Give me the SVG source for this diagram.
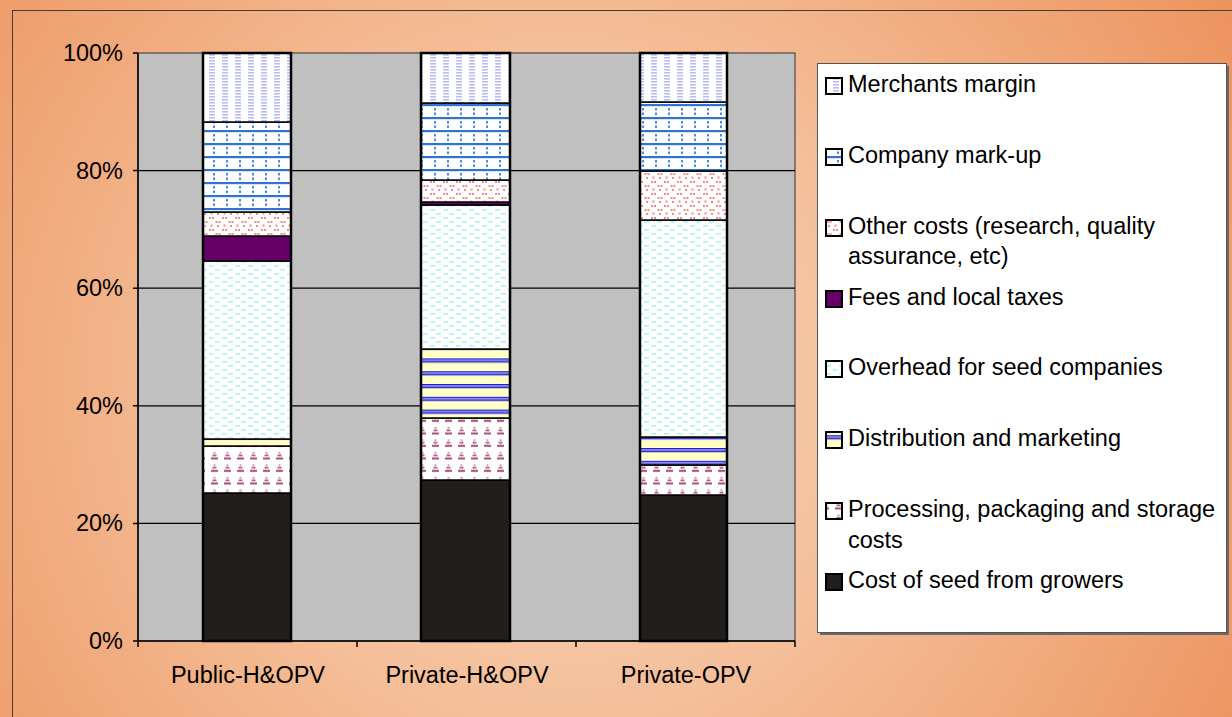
<svg xmlns="http://www.w3.org/2000/svg" width="1232" height="717" viewBox="0 0 1232 717">
  <defs>
    <radialGradient id="bgGrad" gradientUnits="userSpaceOnUse" cx="560" cy="390" r="760">
      <stop offset="0" stop-color="#F9D6BA"/>
      <stop offset="0.45" stop-color="#F4BE98"/>
      <stop offset="1" stop-color="#ED9560"/>
    </radialGradient>
    <!-- Merchants margin: columns of lavender dashes -->
    <pattern id="pMer" patternUnits="userSpaceOnUse" width="13" height="3">
      <rect width="13" height="3" fill="#FFFFFF"/>
      <rect x="1" y="0" width="6" height="1.6" fill="#BCBCF2"/>
    </pattern>
    <!-- Company mark-up: blue rules with dotted verticals -->
    <pattern id="pCom" patternUnits="userSpaceOnUse" width="13" height="13">
      <rect width="13" height="13" fill="#FFFFFF"/>
      <rect x="0" y="0" width="13" height="2.2" fill="#2F74D2"/>
      <rect x="5" y="4" width="2" height="2.5" fill="#4A8CE0"/>
      <rect x="5" y="8.5" width="2" height="2.5" fill="#4A8CE0"/>
    </pattern>
    <!-- Other costs: pink dot zigzag -->
    <pattern id="pOth" patternUnits="userSpaceOnUse" width="13" height="12">
      <rect width="13" height="12" fill="#FFFFFF"/>
      <rect x="1" y="1" width="2" height="2" fill="#F08C8C"/>
      <rect x="4" y="1" width="2" height="2" fill="#F08C8C"/>
      <rect x="7.5" y="5" width="2" height="2" fill="#F08C8C"/>
      <rect x="10.5" y="5" width="2" height="2" fill="#F08C8C"/>
      <rect x="2.5" y="8.5" width="2" height="2" fill="#F08C8C"/>
      <rect x="9" y="9" width="2" height="2" fill="#F08C8C"/>
    </pattern>
    <!-- Overhead: pale cyan dashes -->
    <pattern id="pOve" patternUnits="userSpaceOnUse" width="13" height="8">
      <rect width="13" height="8" fill="#FFFFFF"/>
      <rect x="1" y="1" width="5" height="1.6" fill="#AEF2F6"/>
      <rect x="7" y="5" width="5" height="1.6" fill="#AEF2F6"/>
    </pattern>
    <!-- Distribution: cream with blue stripes -->
    <pattern id="pDis" patternUnits="userSpaceOnUse" width="13" height="12.8">
      <rect width="13" height="12.8" fill="#FFFFC6"/>
      <rect x="0" y="0" width="13" height="1.2" fill="#2020D8"/>
      <rect x="0" y="1.2" width="13" height="1.8" fill="#7878EE"/>
      <rect x="0" y="3" width="13" height="1.2" fill="#2020D8"/>
    </pattern>
    <!-- Processing: magenta pyramids -->
    <pattern id="pPro" patternUnits="userSpaceOnUse" width="13" height="12.5">
      <rect width="13" height="12.5" fill="#FFFFFF"/>
      <rect x="5.5" y="2" width="2" height="1.4" fill="#C07CA0"/>
      <rect x="4.5" y="4.5" width="4" height="1.6" fill="#A84878"/>
      <rect x="3" y="7.5" width="7" height="1.8" fill="#9C3A6C"/>
    </pattern>
    <style>
      text { font-family: "Liberation Sans", Arial, sans-serif; font-size: 23.5px; fill: #000000; }
      .seg { stroke: #000000; stroke-width: 1.5; }
      .bar { fill: none; stroke: #000000; stroke-width: 2.5; }
      .grid { stroke: #000000; stroke-width: 1.2; }
      .axis { stroke: #000000; stroke-width: 1.5; fill: none; }
      .sw { stroke: #000000; stroke-width: 2; }
      .seed { fill: #221E1B; }
      .fees { fill: #660066; }
    </style>
  </defs>

  <!-- background and frame -->
  <rect x="0" y="0" width="1232" height="717" fill="url(#bgGrad)"/>
  <rect x="12.5" y="10.5" width="1240" height="720" fill="none" stroke="#4A3A32" stroke-width="1"/>

  <!-- plot area with gridlines and axes -->
  <g id="plot">
    <rect x="138" y="53" width="657" height="588" fill="#C0C0C0" stroke="#333333" stroke-width="1"/>
    <line class="grid" x1="138" y1="523.4" x2="795" y2="523.4"/>
    <line class="grid" x1="138" y1="405.8" x2="795" y2="405.8"/>
    <line class="grid" x1="138" y1="288.2" x2="795" y2="288.2"/>
    <line class="grid" x1="138" y1="170.6" x2="795" y2="170.6"/>
    <path class="axis" d="M138,53 V647 M138,641 H795 M133,53 H138 M133,170.6 H138 M133,288.2 H138 M133,405.8 H138 M133,523.4 H138 M133,641 H138 M357,641 V647 M576,641 V647 M795,641 V647"/>
  </g>

  <g id="y-labels" text-anchor="end">
    <text x="123" y="61">100%</text>
    <text x="123" y="179">80%</text>
    <text x="123" y="296">60%</text>
    <text x="123" y="414">40%</text>
    <text x="123" y="531">20%</text>
    <text x="123" y="649">0%</text>
  </g>

  <!-- stacked bars -->
  <g id="bar-public-hopv">
    <rect class="seg seed" x="203" y="493" width="88" height="148"/>
    <rect class="seg" fill="url(#pPro)" x="203" y="446" width="88" height="47"/>
    <rect class="seg" fill="url(#pDis)" x="203" y="439" width="88" height="7"/>
    <rect class="seg" fill="url(#pOve)" x="203" y="261" width="88" height="178"/>
    <rect class="seg fees" x="203" y="236" width="88" height="25"/>
    <rect class="seg" fill="url(#pOth)" x="203" y="212" width="88" height="24"/>
    <rect class="seg" fill="url(#pCom)" x="203" y="122" width="88" height="90"/>
    <rect class="seg" fill="url(#pMer)" x="203" y="53" width="88" height="69"/>
    <rect class="bar" x="203" y="53" width="88" height="588"/>
  </g>
  <g id="bar-private-hopv">
    <rect class="seg seed" x="421" y="480" width="89" height="161"/>
    <rect class="seg" fill="url(#pPro)" x="421" y="418" width="89" height="62"/>
    <rect class="seg" fill="url(#pDis)" x="421" y="349" width="89" height="69"/>
    <rect class="seg" fill="url(#pOve)" x="421" y="205" width="89" height="144"/>
    <rect class="seg fees" x="421" y="202" width="89" height="3"/>
    <rect class="seg" fill="url(#pOth)" x="421" y="180" width="89" height="22"/>
    <rect class="seg" fill="url(#pCom)" x="421" y="103" width="89" height="77"/>
    <rect class="seg" fill="url(#pMer)" x="421" y="53" width="89" height="50"/>
    <rect class="bar" x="421" y="53" width="89" height="588"/>
  </g>
  <g id="bar-private-opv">
    <rect class="seg seed" x="640" y="495" width="87" height="146"/>
    <rect class="seg" fill="url(#pPro)" x="640" y="465" width="87" height="30"/>
    <rect class="seg" fill="url(#pDis)" x="640" y="437" width="87" height="28"/>
    <rect class="seg" fill="url(#pOve)" x="640" y="220" width="87" height="217"/>
    <rect class="seg" fill="url(#pOth)" x="640" y="171" width="87" height="49"/>
    <rect class="seg" fill="url(#pCom)" x="640" y="102" width="87" height="69"/>
    <rect class="seg" fill="url(#pMer)" x="640" y="53" width="87" height="49"/>
    <rect class="bar" x="640" y="53" width="87" height="588"/>
  </g>

  <g id="x-labels" text-anchor="middle">
    <text x="248" y="683">Public-H&amp;OPV</text>
    <text x="467" y="683">Private-H&amp;OPV</text>
    <text x="686" y="683">Private-OPV</text>
  </g>

  <!-- legend -->
  <g id="legend">
    <rect x="820" y="66" width="409" height="569" fill="#6A6A6A"/>
    <rect x="817.5" y="63.5" width="409" height="569" fill="#FFFFFF" stroke="#555555" stroke-width="1"/>
    <rect class="sw" fill="url(#pMer)" x="826" y="78" width="16" height="16"/>
    <text x="848" y="92">Merchants margin</text>
    <rect class="sw" fill="url(#pCom)" x="826" y="149" width="16" height="16"/>
    <text x="848" y="163">Company mark-up</text>
    <rect class="sw" fill="url(#pOth)" x="826" y="220" width="16" height="16"/>
    <text x="848" y="234">Other costs (research, quality</text>
    <text x="848" y="264">assurance, etc)</text>
    <rect class="sw fees" x="826" y="291" width="16" height="16"/>
    <text x="848" y="305">Fees and local taxes</text>
    <rect class="sw" fill="url(#pOve)" x="826" y="361" width="16" height="16"/>
    <text x="848" y="375">Overhead for seed companies</text>
    <rect class="sw" fill="url(#pDis)" x="826" y="432" width="16" height="16"/>
    <text x="848" y="446">Distribution and marketing</text>
    <rect class="sw" fill="url(#pPro)" x="826" y="503" width="16" height="16"/>
    <text x="848" y="517">Processing, packaging and storage</text>
    <text x="848" y="548">costs</text>
    <rect class="sw seed" x="826" y="574" width="16" height="16"/>
    <text x="848" y="588">Cost of seed from growers</text>
  </g>
</svg>
